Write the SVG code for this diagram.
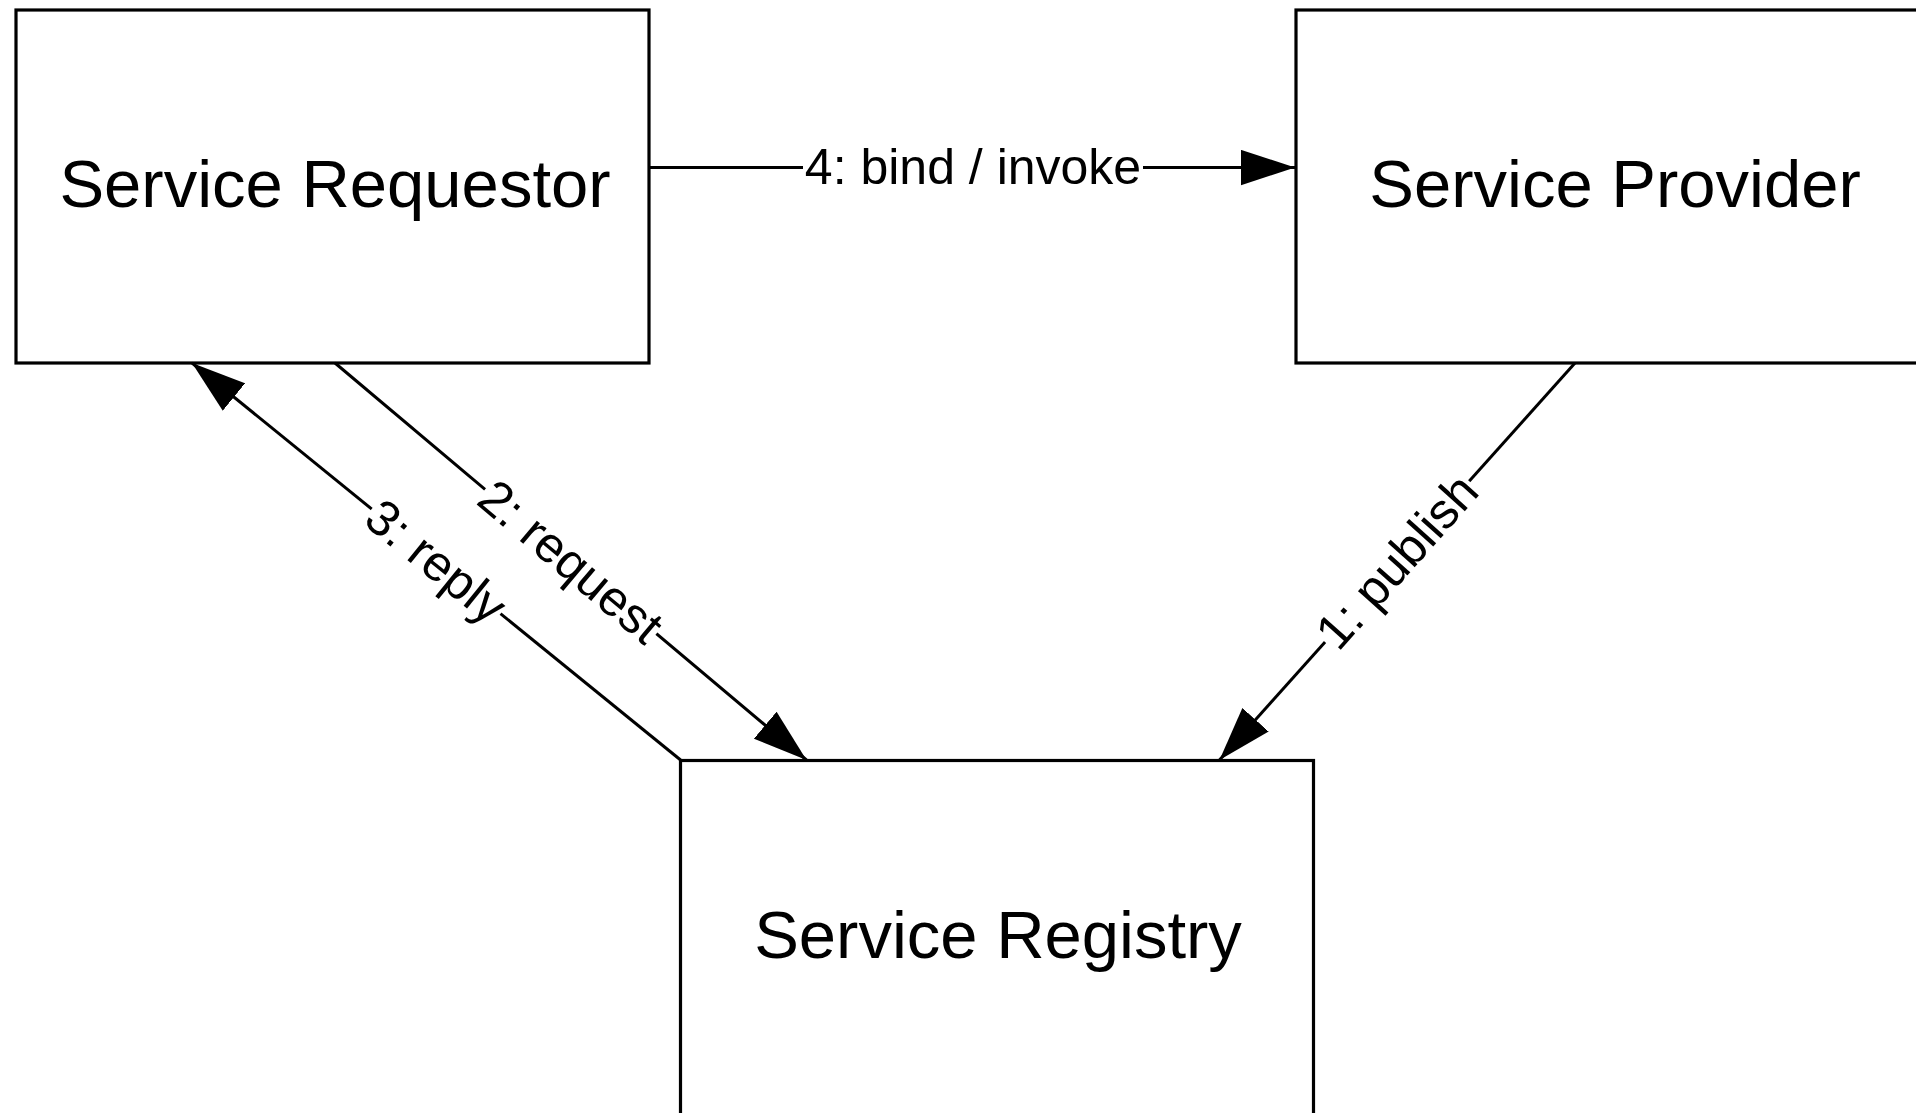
<svg xmlns="http://www.w3.org/2000/svg" width="1916" height="1113" viewBox="0 0 1916 1113">
<style>
.node{fill:#fff;stroke:#000;stroke-width:3.2}
.ntext{font-family:"Liberation Sans",Arial,sans-serif;font-size:67px;fill:#000;text-anchor:middle}
.conn{fill:none;stroke:#000;stroke-width:3}
.ltext{font-family:"Liberation Sans",Arial,sans-serif;font-size:50px;fill:#000;text-anchor:middle;dominant-baseline:central}
.lbg{fill:#fff;stroke:none}
</style>
<defs>
<marker id="arrow" markerUnits="userSpaceOnUse" markerWidth="54" markerHeight="36" viewBox="0 0 52 34" refX="52" refY="17" orient="auto">
<path d="M0,0 L52,17 L0,34 Z" fill="#000"/>
</marker>
</defs>
<rect width="1916" height="1113" fill="#fff"/>
<g id="service-requestor">
<rect class="node" x="16" y="10" width="633" height="353"/>
<text class="ntext" x="335" y="207">Service Requestor</text>
</g>
<g id="service-provider">
<rect class="node" x="1296" y="10" width="640" height="353"/>
<text class="ntext" x="1615" y="207">Service Provider</text>
</g>
<g id="service-registry">
<rect class="node" x="680.5" y="760.5" width="633" height="370"/>
<text class="ntext" x="998" y="958">Service Registry</text>
</g>
<g id="connectors">
<g id="c-bind">
<path class="conn" d="M649,167.5 L1295,167.5" marker-end="url(#arrow)"/>
<rect class="lbg" x="803" y="145" width="340" height="45"/>
<text class="ltext" x="973" y="167">4: bind / invoke</text>
</g>
<g id="c-request">
<path class="conn" d="M335,363 L806.5,760" marker-end="url(#arrow)"/>
<g transform="translate(570.75,561.5) rotate(40.1)">
<rect class="lbg" x="-112" y="-20" width="224" height="40"/>
<text class="ltext" x="0" y="0">2: request</text>
</g>
</g>
<g id="c-reply">
<path class="conn" d="M680.6,760 L192,363" marker-end="url(#arrow)"/>
<g transform="translate(436,561.5) rotate(39.1)">
<rect class="lbg" x="-83" y="-20" width="166" height="40"/>
<text class="ltext" x="0" y="0">3: reply</text>
</g>
</g>
<g id="c-publish">
<path class="conn" d="M1575,363 L1219.5,760" marker-end="url(#arrow)"/>
<g transform="translate(1397,561.5) rotate(-48.2)">
<rect class="lbg" x="-108" y="-20" width="216" height="40"/>
<text class="ltext" x="0" y="0">1: publish</text>
</g>
</g>
</g>
</svg>
